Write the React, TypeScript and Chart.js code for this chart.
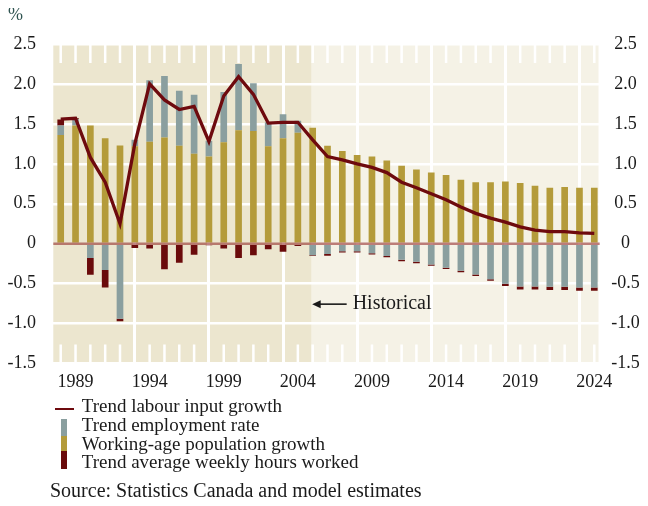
import React, { useEffect, useRef } from 'react';
import { Chart, registerables } from 'chart.js';

Chart.register(...registerables);

// ---------- data ----------
const years = [
  '1988', '1989', '1990', '1991', '1992', '1993', '1994', '1995', '1996', '1997',
  '1998', '1999', '2000', '2001', '2002', '2003', '2004', '2005', '2006', '2007',
  '2008', '2009', '2010', '2011', '2012', '2013', '2014', '2015', '2016', '2017',
  '2018', '2019', '2020', '2021', '2022', '2023', '2024',
];

// Working-age population growth
const popGrowth = [
  1.36, 1.48, 1.48, 1.32, 1.23, 1.22, 1.275, 1.33, 1.225, 1.125,
  1.09, 1.27, 1.42, 1.41, 1.22, 1.32, 1.39, 1.45, 1.225, 1.16,
  1.11, 1.09, 1.04, 0.975, 0.93, 0.89, 0.86, 0.8, 0.77, 0.77,
  0.78, 0.76, 0.725, 0.7, 0.71, 0.7, 0.7,
];

// Trend employment rate
const empRate = [
  0.12, 0.08, -0.18, -0.33, -0.94, 0.08, 0.77, 0.77, 0.69, 0.74,
  0.2, 0.63, 0.83, 0.6, 0.3, 0.3, 0.15, -0.145, -0.13, -0.095,
  -0.095, -0.12, -0.155, -0.2, -0.225, -0.26, -0.3, -0.34, -0.385, -0.445,
  -0.5, -0.535, -0.535, -0.54, -0.54, -0.55, -0.55,
];

// Trend average weekly hours worked
const hoursWorked = [
  0.075, 0.01, -0.21, -0.22, -0.03, -0.055, -0.06, -0.32, -0.24, -0.14,
  -0.02, -0.06, -0.18, -0.145, -0.07, -0.1, -0.03, -0.01, -0.02, -0.015,
  -0.015, -0.015, -0.015, -0.02, -0.02, -0.017, -0.017, -0.017, -0.02, -0.02,
  -0.03, -0.037, -0.037, -0.04, -0.04, -0.04, -0.04,
];

// Trend labour input growth
const labourInput = [
  1.56, 1.57, 1.08, 0.77, 0.25, 1.25, 2.0, 1.8, 1.68, 1.72,
  1.28, 1.85, 2.09, 1.87, 1.51, 1.52, 1.52, 1.3, 1.09, 1.05,
  1.0, 0.955, 0.89, 0.77, 0.7, 0.625, 0.55, 0.46, 0.38, 0.32,
  0.27, 0.21, 0.17, 0.15, 0.15, 0.135, 0.13,
];

const yMin = -1.5;
const yMax = 2.5;
const yStep = 0.5;
const historicalEndIndex = 17; // 2005
const historicalLabel = 'Historical';
const historicalValue = -0.757;

const labels = {
  line: 'Trend labour input growth',
  emp: 'Trend employment rate',
  pop: 'Working-age population growth',
  hours: 'Trend average weekly hours worked',
};
const sourceText = 'Source: Statistics Canada and model estimates';

// ---------- styles ----------
const FONT = "'Liberation Serif', 'Times New Roman', serif";
const C_LINE = '#6e0a0e';
const C_EMP = '#8a9f9f';
const C_POP = '#b49b3a';
const C_HOURS = '#6a0b0b';
const BG_HIST = '#ece6cf';
const BG_PROJ = '#f5f2e6';
const TEXT = '#1a1a1a';

const decorPlugin = {
  id: 'decor',
  beforeDraw(chart: any) {
    const { ctx, chartArea: a, scales } = chart;
    const x = scales.x;
    const bx = x.getPixelForValue(historicalEndIndex) - 1;
    const right = a.right - 3.2;
    ctx.save();
    ctx.fillStyle = BG_HIST;
    ctx.fillRect(a.left, a.top, bx - a.left, a.bottom - a.top);
    ctx.fillStyle = BG_PROJ;
    ctx.fillRect(bx, a.top, right - bx, a.bottom - a.top);
    ctx.restore();
  },
  beforeDatasetsDraw(chart: any) {
    const { ctx, chartArea: a, scales } = chart;
    const x = scales.x;
    ctx.save();
    ctx.fillStyle = '#ffffff';
    for (let i = 0; i < years.length; i++) {
      if (i % 5 === 0 && i > 0) continue;
      const px = x.getPixelForValue(i);
      ctx.fillRect(px - 1.25, a.top, 2.5, 19);
      ctx.fillRect(px - 1.25, a.bottom - 19, 2.5, 19);
    }
    ctx.restore();
  },
  afterDatasetsDraw(chart: any) {
    const { ctx, chartArea: a, scales } = chart;
    const y0 = scales.y.getPixelForValue(0);
    ctx.save();
    ctx.strokeStyle = 'rgba(140, 30, 30, 0.55)';
    ctx.lineWidth = 2.5;
    ctx.beginPath();
    ctx.moveTo(a.left, y0);
    ctx.lineTo(a.right - 2, y0);
    ctx.stroke();
    ctx.restore();
  },
  afterDraw(chart: any) {
    const { ctx, scales } = chart;
    const bx = scales.x.getPixelForValue(historicalEndIndex) - 1;
    const y = scales.y.getPixelForValue(historicalValue);
    ctx.save();
    ctx.strokeStyle = TEXT;
    ctx.fillStyle = TEXT;
    ctx.lineWidth = 1.6;
    ctx.beginPath();
    ctx.moveTo(bx + 6, y);
    ctx.lineTo(bx + 35, y);
    ctx.stroke();
    ctx.beginPath();
    ctx.moveTo(bx + 0.5, y);
    ctx.lineTo(bx + 9, y - 4);
    ctx.lineTo(bx + 9, y + 4);
    ctx.closePath();
    ctx.fill();
    ctx.font = `20px ${FONT}`;
    ctx.textBaseline = 'middle';
    ctx.textAlign = 'left';
    ctx.fillText(historicalLabel, bx + 41, y);
    ctx.restore();
  },
};

const fmt = (v: number) => (v === 0 ? '0' : v.toFixed(1));

export default function App() {
  const ref = useRef<HTMLCanvasElement | null>(null);

  useEffect(() => {
    if (!ref.current) return;
    Chart.defaults.font.family = FONT;
    Chart.defaults.font.size = 18;
    Chart.defaults.color = TEXT;
    const chart = new Chart(ref.current, {
      type: 'bar',
      data: {
        labels: years,
        datasets: [
          {
            type: 'line',
            label: labels.line,
            data: labourInput,
            borderColor: C_LINE,
            borderWidth: 3.3,
            pointRadius: 0,
            tension: 0,
            stack: 'line',
            yAxisID: 'y',
          } as any,
          {
            label: labels.pop,
            data: popGrowth,
            backgroundColor: C_POP,
            stack: 'bars',
            barPercentage: 0.45,
            categoryPercentage: 1,
          },
          {
            label: labels.emp,
            data: empRate,
            backgroundColor: C_EMP,
            stack: 'bars',
            barPercentage: 0.45,
            categoryPercentage: 1,
          },
          {
            label: labels.hours,
            data: hoursWorked,
            backgroundColor: C_HOURS,
            stack: 'bars',
            barPercentage: 0.45,
            categoryPercentage: 1,
          },
        ],
      },
      options: {
        responsive: false,
        animation: false,
        layout: { padding: { top: 36, left: 0, right: 0, bottom: 0 } },
        plugins: {
          legend: { display: false },
          tooltip: { enabled: false },
        },
        scales: {
          x: {
            stacked: true,
            offset: true,
            grid: {
              offset: false,
              drawTicks: false,
              lineWidth: 3,
              color: (c: any) => (c.index % 5 === 0 && c.index > 0 ? '#ffffff' : 'rgba(0,0,0,0)'),
            },
            border: { display: false },
            ticks: {
              autoSkip: false,
              maxRotation: 0,
              minRotation: 0,
              padding: 7.5,
              callback: (_v: any, i: number) => (i % 5 === 1 ? years[i] : ''),
            },
            afterFit: (s: any) => {
              s.height = 36.5;
            },
          },
          y: {
            stacked: true,
            position: 'left',
            min: yMin,
            max: yMax,
            grid: {
              drawTicks: false,
              lineWidth: 2.5,
              color: (c: any) => (c.tick && c.tick.value === 0 ? 'rgba(0,0,0,0)' : '#ffffff'),
            },
            border: { display: false },
            ticks: { stepSize: yStep, padding: 17.3, callback: (v: any) => fmt(Number(v)) },
            afterFit: (s: any) => {
              s.width = 45.3;
            },
          },
          y2: {
            position: 'right',
            min: yMin,
            max: yMax,
            grid: { display: false, drawTicks: false },
            border: { display: false },
            ticks: {
              stepSize: yStep,
              padding: 9.5,
              crossAlign: 'center',
              callback: (v: any) => fmt(Number(v)),
            },
            afterFit: (s: any) => {
              s.width = 38.3;
            },
          },
        },
      } as any,
      plugins: [decorPlugin],
    });
    return () => chart.destroy();
  }, []);

  const textStyle: React.CSSProperties = {
    position: 'absolute',
    fontFamily: FONT,
    fontSize: 19,
    lineHeight: '18.6px',
    color: TEXT,
    whiteSpace: 'nowrap',
    margin: 0,
  };

  const legendRows = [labels.line, labels.emp, labels.pop, labels.hours];

  return (
    <div style={{ position: 'relative', width: 632, height: 490 }}>
      <canvas ref={ref} width={632} height={392} style={{ display: 'block' }} />
      <div
        style={{
          position: 'absolute',
          left: 0,
          top: -3,
          fontFamily: FONT,
          fontSize: 18,
          lineHeight: '18px',
          color: '#2f5350',
        }}
      >
        %
      </div>
      {/* legend icons */}
      <div style={{ position: 'absolute', left: 47, top: 399.5, width: 19, height: 2.8, background: C_LINE }} />
      <div style={{ position: 'absolute', left: 53, top: 411, width: 6, height: 16.7, background: C_EMP }} />
      <div style={{ position: 'absolute', left: 53, top: 427.7, width: 6, height: 15.3, background: C_POP }} />
      <div style={{ position: 'absolute', left: 53, top: 443, width: 6, height: 18, background: C_HOURS }} />
      {legendRows.map((t, i) => (
        <div key={t} style={{ ...textStyle, left: 73.7, top: 389.3 + i * 18.6 }}>
          {t}
        </div>
      ))}
      <div style={{ ...textStyle, left: 42, top: 472, fontSize: 20, lineHeight: '20px' }}>{sourceText}</div>
    </div>
  );
}
